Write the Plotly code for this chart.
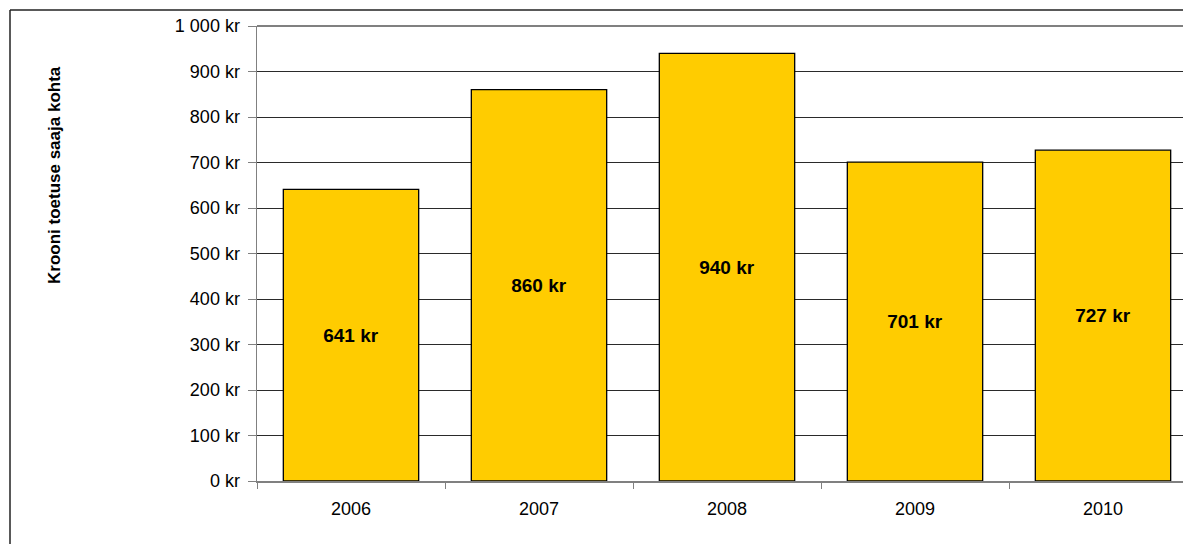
import plotly.graph_objects as go

years = ["2006", "2007", "2008", "2009", "2010"]
values = [641, 860, 940, 701, 727]
labels = ["641 kr", "860 kr", "940 kr", "701 kr", "727 kr"]
ytick_vals = [0, 100, 200, 300, 400, 500, 600, 700, 800, 900, 1000]
ytick_text = ["0 kr", "100 kr", "200 kr", "300 kr", "400 kr", "500 kr", "600 kr",
              "700 kr", "800 kr", "900 kr", "1 000 kr"]
y_title = "Krooni toetuse saaja kohta"

W, H = 1183, 544
L, R, T = 257, 0, 26
B = H - 481
pw = W - L - R
ph = H - T - B
# category spacing in reference is ~188px; the chart is cut at the right page edge
x_hi = -0.5 + pw / 188.0

fig = go.Figure()
fig.add_trace(go.Bar(
    x=years, y=values, text=labels,
    textposition="inside", insidetextanchor="middle",
    textfont=dict(family="Liberation Sans, Arial", size=19, color="black"),
    texttemplate="<b>%{text}</b>",
    marker=dict(color="#FFCC00", line=dict(color="#000000", width=1.3)),
    width=0.72, hoverinfo="skip",
))

fig.update_layout(
    width=W, height=H,
    margin=dict(l=L, r=R, t=T, b=B, pad=0),
    paper_bgcolor="white", plot_bgcolor="white",
    showlegend=False,
    font=dict(family="Liberation Sans, Arial", size=18, color="black"),
    xaxis=dict(
        type="category", range=[-0.5, x_hi],
        showgrid=False, showline=True, linecolor="#808080", linewidth=1.5,
        ticks="outside", tickson="boundaries", ticklen=6, tickcolor="#808080",
        tickfont=dict(size=18), ticklabelstandoff=11,
    ),
    yaxis=dict(
        range=[0, 1000], tickvals=ytick_vals, ticktext=ytick_text,
        showgrid=True, gridcolor="#2a2a2a", gridwidth=1,
        showline=True, linecolor="#808080", linewidth=1.5,
        ticks="outside", ticklen=8, tickcolor="#808080",
        tickfont=dict(size=18), ticklabelstandoff=4,
        zeroline=False,
    ),
)

# outer chart frame (left and top edges visible)
fx = (10 - L) / pw
fy = (H - B - 10) / ph
fig.add_shape(type="line", xref="paper", yref="paper", x0=fx, x1=fx, y0=-0.3, y1=fy,
              line=dict(color="#222222", width=1.5))
fig.add_shape(type="line", xref="paper", yref="paper", x0=fx, x1=1.05, y0=fy, y1=fy,
              line=dict(color="#222222", width=1.5))
# plot area top border
fig.add_shape(type="line", xref="paper", yref="paper", x0=0, x1=1.05, y0=1, y1=1,
              line=dict(color="#808080", width=2))

# y-axis title
fig.add_annotation(
    text="<b>" + y_title + "</b>", xref="paper", yref="paper",
    x=(55 - L) / pw, y=(H - B - 175) / ph, showarrow=False, textangle=-90,
    font=dict(family="Liberation Sans, Arial", size=17, color="black"),
    xanchor="center", yanchor="middle",
)

fig.write_html(
    "out.html",
    config={"displayModeBar": False, "staticPlot": True},
    post_script="document.body.style.margin='0';document.body.style.overflow='hidden';"
                "document.documentElement.style.overflow='hidden';",
)
